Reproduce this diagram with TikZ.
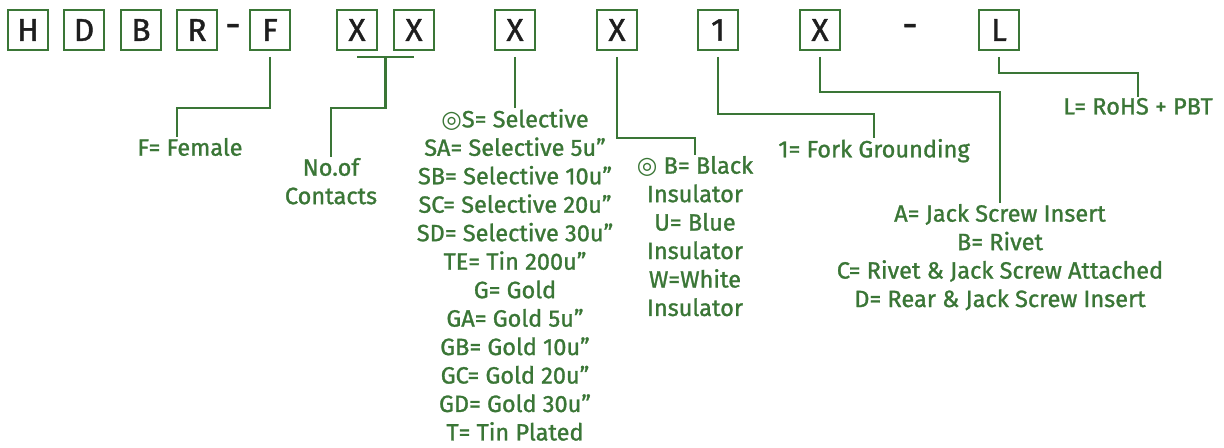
\documentclass[tikz,border=0pt]{standalone}
\usepackage{fontspec}
\setmainfont{Fira Sans}[FakeBold=1.2]
\newfontfamily\symfont{DejaVu Sans}
\usetikzlibrary{calc}
\definecolor{codegreen}{RGB}{58,118,54}
\definecolor{codeink}{RGB}{30,30,30}
\newcommand{\dblring}{{\symfont\char"25CE}}

\begin{document}
\begin{tikzpicture}[x=0.02cm,y=-0.02cm]
	\useasboundingbox (0,0) rectangle (1224,448);
	\begin{scope}[every node/.style={draw=codegreen,line width=1.2pt,minimum size=0.8cm,inner sep=0pt,outer sep=0.14cm,text=codeink,font=\fontsize{18}{20}\selectfont}]
		\node (h) at (28,30) {H};
		\node (d) at (84,30) {D};
		\node (b) at (141,30) {B};
		\node (r) at (197,30) {R};
		\node (f) at (270,30) {F};

		\node (x1) at (357,30) {X};
		\node (x2) at (414,30) {X};
		\node (xplate) at (515,30) {X};
		\node (xhouse) at (617,30) {X};
		\node (one) at (718,30) {1};
		\node (xhw) at (820,30) {X};
		\node (l) at (999,30) {L};
	\end{scope}

	\begin{scope}[every node/.style={text=codeink,font=\fontsize{22}{24}\selectfont}]
		\node (dash1) at (233,31) {-};
		\node (dash2) at (910,31) {-};
	\end{scope}

	\begin{scope}[every node/.style={text=codegreen,align=center,anchor=north,inner sep=0pt,outer sep=0.02cm,font=\fontsize{13.4}{16.2}\selectfont}]
		\node (female) at (190,137) {F= Female};
		\node (contacts) at (331,157) {No.of\\Contacts};
		\node (plating) at (515,108) {\dblring S= Selective\\SA= Selective 5u”\\SB= Selective 10u”\\SC= Selective 20u”\\SD= Selective 30u”\\TE= Tin 200u”\\G= Gold\\GA= Gold 5u”\\GB= Gold 10u”\\GC= Gold 20u”\\GD= Gold 30u”\\T= Tin Plated};
		\node (housing) at (695,155) {\dblring{} B= Black\\Insulator\\U= Blue\\Insulator\\W=White\\Insulator};
		\node (fork) at (874,138) {1= Fork Grounding};
		\node (hardware) at (1000,203) {A= Jack Screw Insert\\B= Rivet\\C= Rivet \& Jack Screw Attached\\D= Rear \& Jack Screw Insert};
		\node (rohs) at (1138,97) {L= RoHS + PBT};
	\end{scope}

	\begin{scope}[draw=codegreen,line width=1.2pt]
		\coordinate (cmid) at ($(x1.south)!0.5!(x2.south)$);
		\draw (f.south) -- ++(0,51) -| ([xshift=-0.26cm]female.north);
		\draw (x1.south) -- (x2.south);
		\draw (cmid) -- ++(0,51) -| (contacts.north);
		\draw (xplate.south) -- (plating.north);
		\draw (xhouse.south) -- ++(0,81) -| (housing.north);
		\draw (one.south) -- ++(0,57) -| (fork.north);
		\draw (xhw.south) -- ++(0,35) -| (hardware.north);
		\draw (l.south) -- ++(0,16) -| (rohs.north);
	\end{scope}
\end{tikzpicture}
\end{document}
